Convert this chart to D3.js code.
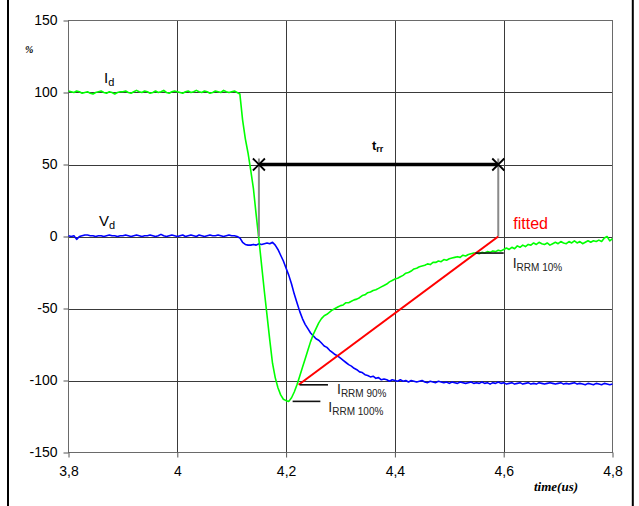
<!DOCTYPE html>
<html>
<head>
<meta charset="utf-8">
<script src="https://cdn.jsdelivr.net/npm/d3@7"></script>
<style>
  html, body { margin: 0; padding: 0; background: #fff; }
  svg { display: block; }
</style>
</head>
<body>
<svg id="chart" width="639" height="506"></svg>
<script>
// ---------------- data ----------------
const xTicks = [3.8, 4.0, 4.2, 4.4, 4.6, 4.8];
const yTicks = [-150, -100, -50, 0, 50, 100, 150];
const sampleStart = 3.8;      // time of first sample (us)
const sampleStep = 0.005;     // sampling interval (us)

// I_d (%) samples
const idValues = [
  101, 100.5, 100, 101, 100.5, 99.5, 100, 100.5, 99.5, 99,
  100, 100.5, 101, 100, 99.5, 100.5, 100, 99, 100, 100.5,
  100.5, 101, 100, 99.5, 100.5, 101.5, 100.5, 100, 101, 100.5,
  99.5, 100, 101, 100, 100.5, 101.5, 100, 99.5, 100.5, 101,
  100.5, 100, 99.5, 100.5, 101, 100, 100.5, 101.5, 100.5, 100,
  101, 100.5, 99.5, 100, 101, 100.5, 100, 101.5, 100.5, 100,
  100.5, 101, 100, 99, 81, 68, 58, 46, 33, 15,
  -2, -20, -38, -55, -72, -88, -98, -105, -110, -113,
  -114, -114.5, -112, -108, -103, -97, -91, -85, -79, -73,
  -68, -64, -60, -57, -55, -54, -52.5, -51, -50, -49,
  -48, -47.5, -46, -46, -45, -44, -43.5, -42.5, -41, -40.5,
  -39, -38.5, -37.5, -37, -36, -35, -34, -33, -31.5, -30.5,
  -29.5, -29, -28, -27, -25.5, -25, -24, -22.5, -22, -21,
  -20.5, -20, -19, -19.5, -18, -18, -17, -17.5, -16, -16.5,
  -15.5, -15, -14.5, -14, -14.5, -13, -13.5, -12.5, -12, -11.5,
  -11.5, -12, -11, -11.5, -10.5, -11, -10, -10.5, -9.5, -10,
  -9, -8, -9, -7.5, -8.5, -6.5, -7.5, -6, -7, -5.5,
  -6, -4.5, -5.5, -4, -5, -5.5, -4.5, -6, -5, -4,
  -5, -3.5, -4.5, -5, -3.5, -4.5, -3, -4.5, -3.5, -5,
  -4, -3, -4, -3, -3.5, -2.5, -3.5, -1, 0, -3,
  -1.5
];

// V_d (%) samples
const vdValues = [
  0.5, 0, 0.5, -2, 0, 0.5, 1, 1, 0.5, 0.5,
  0, 0.5, 0.5, 0, 0.5, 1, 0.5, 0.5, 0, 0.5,
  0.5, 1, 0.5, 0, 0.5, 1, 0.5, 0, 0.5, 0.5,
  1, 0.5, 0, 0.5, 1.5, 0.5, 0, 0.5, 1, 0.5,
  0, 0.5, 1, 0, 0.5, 1, 0.5, 0, 1, 0.5,
  0, 0.5, 1, 0.5, 0.5, 1, 0.5, 0, 0.5, 1,
  0.5, 0.5, 0, -1, -4, -5.5, -6, -6, -5.5, -6,
  -5, -5.5, -5, -4.5, -5, -4, -6, -9, -13, -17,
  -22, -27, -33, -40, -46, -52, -57, -61, -64, -67,
  -69, -71, -72, -74, -76, -77, -79, -80.5, -82, -83,
  -84.5, -86, -87.5, -89, -90, -91.5, -92.5, -94, -94.5, -96,
  -96.5, -97.5, -97, -98.5, -98, -99.5, -99, -99.5, -100.5, -99.5,
  -100, -100.5, -99.5, -100.5, -100, -101, -100, -100.5, -101, -100.5,
  -100, -101, -101.5, -100.5, -101, -101.5, -100.5, -101, -101.5, -101,
  -102, -101, -101.5, -102, -101, -101.5, -102, -101.5, -101, -102,
  -101.5, -102, -101, -102, -101.5, -102.5, -101.5, -102, -101, -102,
  -101.5, -102.5, -102, -101.5, -102.5, -102, -101.5, -102.5, -102, -101.5,
  -102.5, -102, -102.5, -101.5, -102, -102.5, -102, -101.5, -102, -102.5,
  -102, -101.5, -102.5, -102, -102.5, -102, -101.5, -102.5, -102, -102.5,
  -103, -102, -102.5, -103, -102, -102.5, -103, -102, -102.5, -103,
  -102.5
];

// annotations (data coordinates)
const trrRange = [4.15, 4.59];
const trrLevel = 50;
const fittedLine = [[4.223, -103], [4.59, 0]];
const irrm100 = { level: -114.5, from: 4.212, to: 4.263 };
const irrm90  = { level: -103,   from: 4.225, to: 4.277 };
const irrm10  = { level: -11.5,  from: 4.548, to: 4.6 };

// ---------------- chart ----------------
const svg = d3.select("#chart");
const x = d3.scaleLinear().domain([3.8, 4.8]).range([68.5, 612.5]);
const y = d3.scaleLinear().domain([-150, 150]).range([452.5, 20.5]);
const fmt = d3.formatLocale({decimal: ",", thousands: ".", grouping: [3], currency: ["", ""]}).format("~g");

// outer frame (sides)
svg.append("line").attr("x1", 8).attr("x2", 8).attr("y1", 0).attr("y2", 506)
  .attr("stroke", "#000").attr("stroke-width", 2);
svg.append("line").attr("x1", 632.8).attr("x2", 632.8).attr("y1", 0).attr("y2", 506)
  .attr("stroke", "#000").attr("stroke-width", 2);

// gridlines
const grid = svg.append("g").attr("stroke", "#3a3a3a").attr("stroke-width", 1);
grid.selectAll(".gx").data(xTicks.slice(1, -1)).join("line")
  .attr("x1", d => Math.round(x(d)) + 0.5).attr("x2", d => Math.round(x(d)) + 0.5)
  .attr("y1", y(150)).attr("y2", y(-150));
grid.selectAll(".gy").data(yTicks.slice(1, -1)).join("line")
  .attr("x1", x(3.8)).attr("x2", x(4.8))
  .attr("y1", d => Math.round(y(d)) + 0.5).attr("y2", d => Math.round(y(d)) + 0.5);

// plot border
svg.append("rect").attr("x", x(3.8)).attr("y", y(150))
  .attr("width", x(4.8) - x(3.8)).attr("height", y(-150) - y(150))
  .attr("fill", "none").attr("stroke", "#6a6a6a").attr("stroke-width", 1);

// axes
const yAxis = svg.append("g").attr("transform", `translate(${x(3.8)},0)`)
  .call(d3.axisLeft(y).tickValues(yTicks).tickSize(5).tickPadding(6).tickSizeOuter(0).tickFormat(d => String(d)));
const xAxis = svg.append("g").attr("transform", `translate(0,${y(-150)})`)
  .call(d3.axisBottom(x).tickValues(xTicks).tickSize(5).tickPadding(9).tickSizeOuter(0).tickFormat(fmt));
[yAxis, xAxis].forEach(a => {
  a.select(".domain").remove();
  a.selectAll(".tick line").attr("stroke", "#555");
  a.selectAll("text").attr("font-family", "'Liberation Sans', Arial, sans-serif")
    .attr("font-size", 14).attr("fill", "#000");
});

// axis titles
svg.append("text").attr("x", 25).attr("y", 53)
  .attr("font-family", "'Liberation Serif', 'Times New Roman', serif")
  .attr("font-style", "italic").attr("font-weight", "bold").attr("font-size", 10)
  .text("%");
svg.append("text").attr("x", 534).attr("y", 491)
  .attr("font-family", "'Liberation Serif', 'Times New Roman', serif")
  .attr("font-style", "italic").attr("font-weight", "bold").attr("font-size", 13)
  .text("time(us)");

// series
const line = d3.line()
  .x((d, i) => x(sampleStart + i * sampleStep))
  .y(d => y(d));
svg.append("path").datum(vdValues).attr("d", line)
  .attr("fill", "none").attr("stroke", "#0000ff").attr("stroke-width", 1.6).attr("stroke-linejoin", "round");
svg.append("path").datum(idValues).attr("d", line)
  .attr("fill", "none").attr("stroke", "#00ff00").attr("stroke-width", 1.6).attr("stroke-linejoin", "round");

// trr drop lines (grey)
trrRange.forEach(t => {
  svg.append("line").attr("x1", x(t)).attr("x2", x(t))
    .attr("y1", y(trrLevel) - 6).attr("y2", y(0))
    .attr("stroke", "#8a8a8a").attr("stroke-width", 2);
});
// trr bar
svg.append("line").attr("x1", x(trrRange[0])).attr("x2", x(trrRange[1]))
  .attr("y1", y(trrLevel)).attr("y2", y(trrLevel))
  .attr("stroke", "#000").attr("stroke-width", 3.5);
// X markers
trrRange.forEach(t => {
  const cx = x(t), cy = y(trrLevel), s = 6;
  svg.append("path")
    .attr("d", `M${cx - s},${cy - s}L${cx + s},${cy + s}M${cx - s},${cy + s}L${cx + s},${cy - s}`)
    .attr("stroke", "#000").attr("stroke-width", 1.8);
});
// trr label
const trrText = svg.append("text").attr("x", 372).attr("y", y(trrLevel) - 15)
  .attr("font-family", "'Liberation Sans', Arial, sans-serif").attr("font-weight", "bold")
  .attr("font-size", 13).attr("fill", "#000");
trrText.append("tspan").text("t");
trrText.append("tspan").attr("font-size", 9).attr("dy", 2).text("rr");

// fitted red line
svg.append("line")
  .attr("x1", x(fittedLine[0][0])).attr("y1", y(fittedLine[0][1]))
  .attr("x2", x(fittedLine[1][0])).attr("y2", y(fittedLine[1][1]))
  .attr("stroke", "#ff0000").attr("stroke-width", 2);
svg.append("text").attr("x", x(fittedLine[1][0]) + 15).attr("y", y(0) - 8)
  .attr("font-family", "'Liberation Sans', Arial, sans-serif")
  .attr("font-size", 16).attr("fill", "#ff0000").text("fitted");

// IRRM markers
[irrm100, irrm90, irrm10].forEach(m => {
  svg.append("line").attr("x1", x(m.from)).attr("x2", x(m.to))
    .attr("y1", y(m.level)).attr("y2", y(m.level))
    .attr("stroke", "#111").attr("stroke-width", 1.6);
});
function irrmLabel(px, py, sub) {
  const t = svg.append("text").attr("x", px).attr("y", py)
    .attr("font-family", "'Liberation Sans', Arial, sans-serif")
    .attr("font-size", 14).attr("fill", "#222");
  t.append("tspan").text("I");
  t.append("tspan").attr("font-size", 10).attr("dy", 3).text(sub);
}
irrmLabel(x(irrm10.to) + 9, y(irrm10.level) + 15, "RRM 10%");
irrmLabel(x(irrm90.to) + 9, y(irrm90.level) + 9, "RRM 90%");
irrmLabel(x(irrm100.to) + 8, y(irrm100.level) + 11, "RRM 100%");

// series labels
function seriesLabel(px, py, main) {
  const t = svg.append("text").attr("x", px).attr("y", py)
    .attr("font-family", "'Liberation Sans', Arial, sans-serif")
    .attr("font-size", 15).attr("fill", "#000");
  t.append("tspan").text(main);
  t.append("tspan").attr("font-size", 11).attr("dy", 3).text("d");
}
seriesLabel(104, y(100) - 10, "I");
seriesLabel(99, y(0) - 11, "V");
</script>
</body>
</html>
